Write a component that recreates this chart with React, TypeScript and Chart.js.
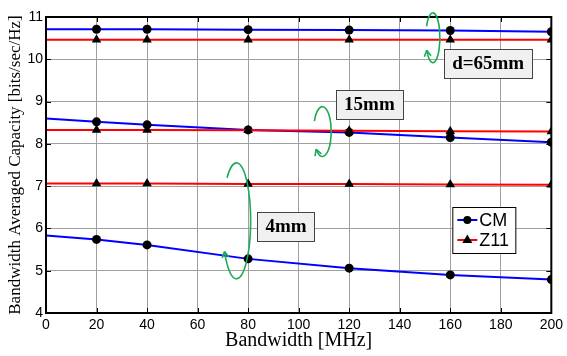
import React, { useEffect, useRef } from 'react';
import { Chart, registerables } from 'chart.js';
Chart.register(...registerables);

const bandwidth = [0, 20, 40, 80, 120, 160, 200];
const cm65 = [10.71, 10.71, 10.71, 10.7, 10.69, 10.68, 10.65];
const z1165 = [10.46, 10.46, 10.46, 10.46, 10.46, 10.46, 10.46];
const cm15 = [8.6, 8.52, 8.45, 8.33, 8.27, 8.15, 8.04];
const z1115 = [8.33, 8.33, 8.33, 8.32, 8.31, 8.3, 8.29];
const cm4 = [5.83, 5.74, 5.61, 5.28, 5.06, 4.9, 4.79];
const z114 = [7.06, 7.06, 7.06, 7.05, 7.05, 7.04, 7.03];
const markerRadius = [0, 4.5, 4.5, 4.5, 4.5, 4.5, 4.5];
const triRadius = [0, 5.5, 5.5, 5.5, 5.5, 5.5, 5.5];

const legendLabels = ['CM', 'Z11'];
const boxLabels = [
  { text: 'd=65mm', x: 175, y: 9.905 },
  { text: '15mm', x: 128, y: 8.94 },
  { text: '4mm', x: 95, y: 6.055 },
];
// ellipse arcs: centre (data), radii (data), start/end angle (deg)
const arcs = [
  { cx: 153.1, cy: 10.51, rx: 2.8, ry: 0.59, a0: 207, a1: 510 },
  { cx: 109.4, cy: 8.29, rx: 3.5, ry: 0.59, a0: 205, a1: 495 },
  { cx: 75.4, cy: 6.18, rx: 5.6, ry: 1.37, a0: 228, a1: 508 },
];

const BLUE = '#0000ff';
const RED = '#ff0000';
const GREEN = '#1aaa55';

const toPts = (ys: number[]) => bandwidth.map((x, i) => ({ x, y: ys[i] }));

const overlay = {
  id: 'overlay',
  afterDatasetsDraw(chart: any) {
    const { ctx, chartArea: a, scales } = chart;
    const xs = scales.x, ys = scales.y;
    ctx.save();
    // frame
    ctx.strokeStyle = '#000';
    ctx.lineWidth = 2;
    ctx.strokeRect(a.left, a.top, a.right - a.left, a.bottom - a.top);
    // inward ticks
    ctx.lineWidth = 1;
    ctx.beginPath();
    for (let v = 0; v <= 200; v += 20) {
      const px = Math.round(xs.getPixelForValue(v)) + 0.5;
      ctx.moveTo(px, a.bottom); ctx.lineTo(px, a.bottom - 5);
      ctx.moveTo(px, a.top); ctx.lineTo(px, a.top + 5);
    }
    for (let v = 4; v <= 11; v += 1) {
      const py = Math.round(ys.getPixelForValue(v)) + 0.5;
      ctx.moveTo(a.left, py); ctx.lineTo(a.left + 5, py);
      ctx.moveTo(a.right, py); ctx.lineTo(a.right - 5, py);
    }
    ctx.stroke();

    // green arcs
    ctx.strokeStyle = GREEN;
    ctx.lineWidth = 1.6;
    for (const e of arcs) {
      const cx = xs.getPixelForValue(e.cx);
      const cy = ys.getPixelForValue(e.cy);
      const rx = Math.abs(xs.getPixelForValue(e.cx + e.rx) - cx);
      const ry = Math.abs(ys.getPixelForValue(e.cy + e.ry) - cy);
      const t0 = (e.a0 * Math.PI) / 180, t1 = (e.a1 * Math.PI) / 180;
      ctx.beginPath();
      ctx.ellipse(cx, cy, rx, ry, 0, t0, t1, false);
      ctx.stroke();
      const tx = cx + rx * Math.cos(t1), ty = cy + ry * Math.sin(t1);
      let dx = -rx * Math.sin(t1), dy = ry * Math.cos(t1);
      const len = Math.hypot(dx, dy); dx /= len; dy /= len;
      const ang = Math.atan2(dy, dx);
      ctx.beginPath();
      for (const s of [-0.5, 0.5]) {
        ctx.moveTo(tx, ty);
        ctx.lineTo(tx - 7 * Math.cos(ang + s), ty - 7 * Math.sin(ang + s));
      }
      ctx.stroke();
    }

    // text boxes
    ctx.font = 'bold 19px "Liberation Serif"';
    ctx.textBaseline = 'middle';
    ctx.textAlign = 'center';
    for (const b of boxLabels) {
      const cx = xs.getPixelForValue(b.x);
      const cy = ys.getPixelForValue(b.y);
      const w = ctx.measureText(b.text).width + 16;
      const h = 29;
      ctx.fillStyle = '#f0f0f0';
      ctx.fillRect(Math.round(cx - w / 2) + 0.5, Math.round(cy - h / 2) + 0.5, Math.round(w), h);
      ctx.strokeStyle = '#444';
      ctx.lineWidth = 1;
      ctx.strokeRect(Math.round(cx - w / 2) + 0.5, Math.round(cy - h / 2) + 0.5, Math.round(w), h);
      ctx.fillStyle = '#000';
      ctx.fillText(b.text, cx, cy + 1);
    }

    // legend
    const lx = a.right - 99, ly = a.top + 190;
    const lw = 63, lh = 46;
    ctx.fillStyle = '#fff';
    ctx.fillRect(lx + 0.5, ly + 0.5, lw, lh);
    ctx.strokeStyle = '#000';
    ctx.lineWidth = 1;
    ctx.strokeRect(lx + 0.5, ly + 0.5, lw, lh);
    const cols = [BLUE, RED];
    ctx.font = '18px "Liberation Sans"';
    ctx.textAlign = 'left';
    legendLabels.forEach((lab, i) => {
      const yy = ly + 13 + i * 20;
      ctx.strokeStyle = cols[i];
      ctx.lineWidth = 2;
      ctx.beginPath();
      ctx.moveTo(lx + 5, yy); ctx.lineTo(lx + 25, yy);
      ctx.stroke();
      ctx.fillStyle = '#000';
      ctx.beginPath();
      if (i === 0) {
        ctx.arc(lx + 15, yy, 4, 0, Math.PI * 2);
      } else {
        ctx.moveTo(lx + 15, yy - 5.5);
        ctx.lineTo(lx + 20, yy + 3);
        ctx.lineTo(lx + 10, yy + 3);
        ctx.closePath();
      }
      ctx.fill();
      ctx.fillText(lab, lx + 27, yy + 1);
    });
    ctx.restore();
  },
};

export default function App() {
  const ref = useRef<HTMLCanvasElement>(null);
  useEffect(() => {
    document.body.style.margin = '0';
    const canvas = ref.current!;
    const mk = (ys: number[], color: string, tri: boolean) => ({
      data: toPts(ys),
      borderColor: color,
      backgroundColor: '#000',
      pointBackgroundColor: '#000',
      pointBorderColor: '#000',
      borderWidth: 2,
      pointBorderWidth: 0,
      pointRadius: tri ? triRadius : markerRadius,
      pointStyle: tri ? 'triangle' : 'circle',
      tension: 0,
      fill: false,
    });
    const tickFont = { family: 'Liberation Sans', size: 14 };
    const chart = new Chart(canvas, {
      type: 'line',
      data: {
        datasets: [
          mk(z1165, RED, true),
          mk(z1115, RED, true),
          mk(z114, RED, true),
          mk(cm65, BLUE, false),
          mk(cm15, BLUE, false),
          mk(cm4, BLUE, false),
        ] as any,
      },
      options: {
        responsive: false,
        animation: false,
        layout: { padding: { left: 0, right: 13, top: 17, bottom: 0 } },
        plugins: { legend: { display: false }, tooltip: { enabled: false } },
        scales: {
          x: {
            type: 'linear',
            min: 0,
            max: 200,
            ticks: { stepSize: 20, color: '#000', font: tickFont, padding: 4 },
            grid: { color: '#a0a0a0', lineWidth: 1, drawTicks: false },
            border: { display: true, color: '#000', width: 2 },
            title: {
              display: true,
              text: 'Bandwidth [MHz]',
              color: '#000',
              font: { family: 'Liberation Serif', size: 20 },
              padding: { top: 0, bottom: 3 },
            },
            afterFit: (s: any) => { s.height = 43; },
          },
          y: {
            type: 'linear',
            min: 4,
            max: 11,
            ticks: { stepSize: 1, color: '#000', font: tickFont, padding: 3 },
            grid: { color: '#a0a0a0', lineWidth: 1, drawTicks: false },
            border: { display: true, color: '#000', width: 2 },
            title: {
              display: true,
              text: 'Bandwidth Averaged Capacity [bits/sec/Hz]',
              color: '#000',
              font: { family: 'Liberation Serif', size: 17 },
              padding: { top: 5, bottom: 0 },
            },
            afterFit: (s: any) => { s.width = 46; },
          },
        },
      },
      plugins: [overlay],
    } as any);
    return () => chart.destroy();
  }, []);
  return (
    <div style={{ width: 567, height: 356 }}>
      <canvas ref={ref} width={567} height={356} style={{ width: 567, height: 356, display: 'block' }} />
    </div>
  );
}
